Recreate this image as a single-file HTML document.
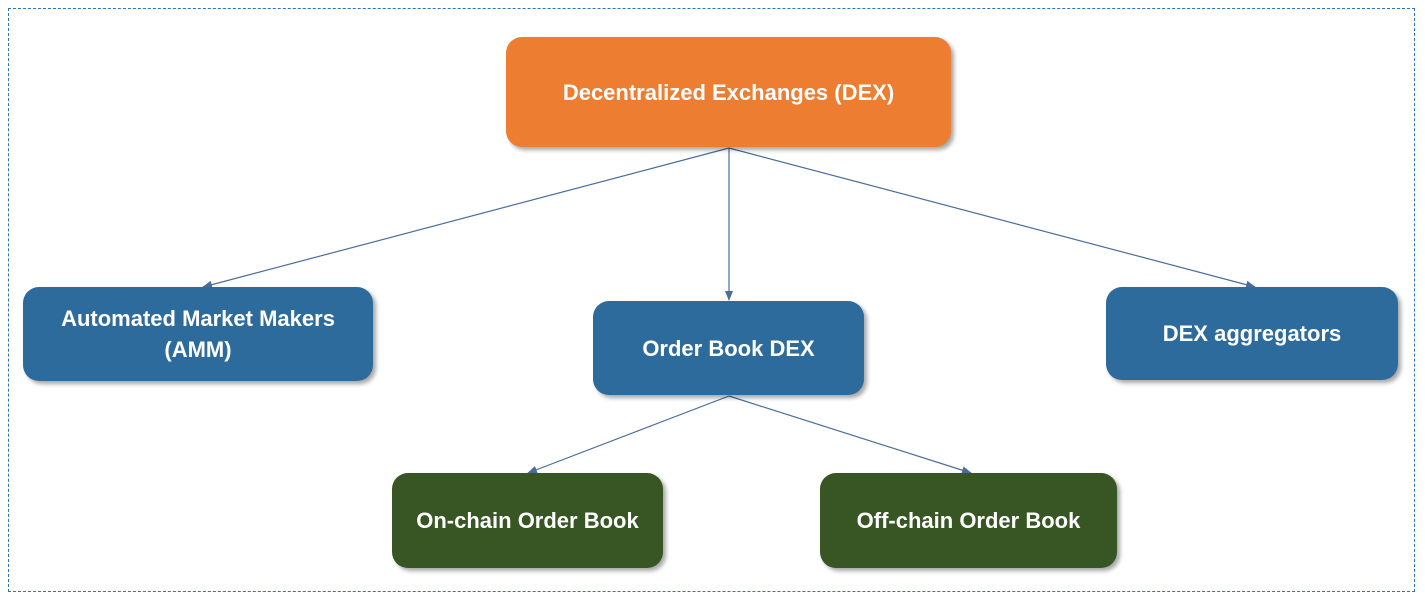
<!DOCTYPE html>
<html><head><style>
body{margin:0;width:1425px;height:606px;background:#fff;position:relative;overflow:hidden;font-family:"Liberation Sans",sans-serif}
.frame{position:absolute;left:8px;top:8px;width:1407px;height:584px;border:1.5px dashed #2E75B6;box-sizing:border-box}
.b{position:absolute;border-radius:16px;color:#fff;font-weight:bold;font-size:22px;display:flex;align-items:center;justify-content:center;text-align:center;line-height:31px;box-shadow:3px 3px 4px rgba(0,0,0,0.35)}
.o{background:#ED7D31}.bl{background:#2E6B9D}.g{background:#375623}
svg{position:absolute;left:0;top:0}
</style></head><body>
<div class="frame"></div>
<svg width="1425" height="606">
<defs><marker id="a" markerWidth="10" markerHeight="8" refX="9" refY="4" orient="auto" markerUnits="userSpaceOnUse"><path d="M0,0 L10,4 L0,8 Z" fill="#4A6E9A"/></marker></defs>
<g stroke="#4A6E9A" stroke-width="1.2" fill="none" marker-end="url(#a)">
<line x1="729" y1="148" x2="203" y2="287"/>
<line x1="729" y1="148" x2="729" y2="300"/>
<line x1="729" y1="148" x2="1255" y2="287"/>
<line x1="729" y1="396" x2="528" y2="473"/>
<line x1="729" y1="396" x2="971" y2="473"/>
</g></svg>
<div class="b o" style="left:506px;top:37px;width:445px;height:110px">Decentralized Exchanges (DEX)</div>
<div class="b bl" style="left:23px;top:287px;width:350px;height:94px">Automated Market Makers<br>(AMM)</div>
<div class="b bl" style="left:593px;top:301px;width:271px;height:94px">Order Book DEX</div>
<div class="b bl" style="left:1106px;top:287px;width:292px;height:93px">DEX aggregators</div>
<div class="b g" style="left:392px;top:473px;width:271px;height:95px">On-chain Order Book</div>
<div class="b g" style="left:820px;top:473px;width:297px;height:95px">Off-chain Order Book</div>
</body></html>
